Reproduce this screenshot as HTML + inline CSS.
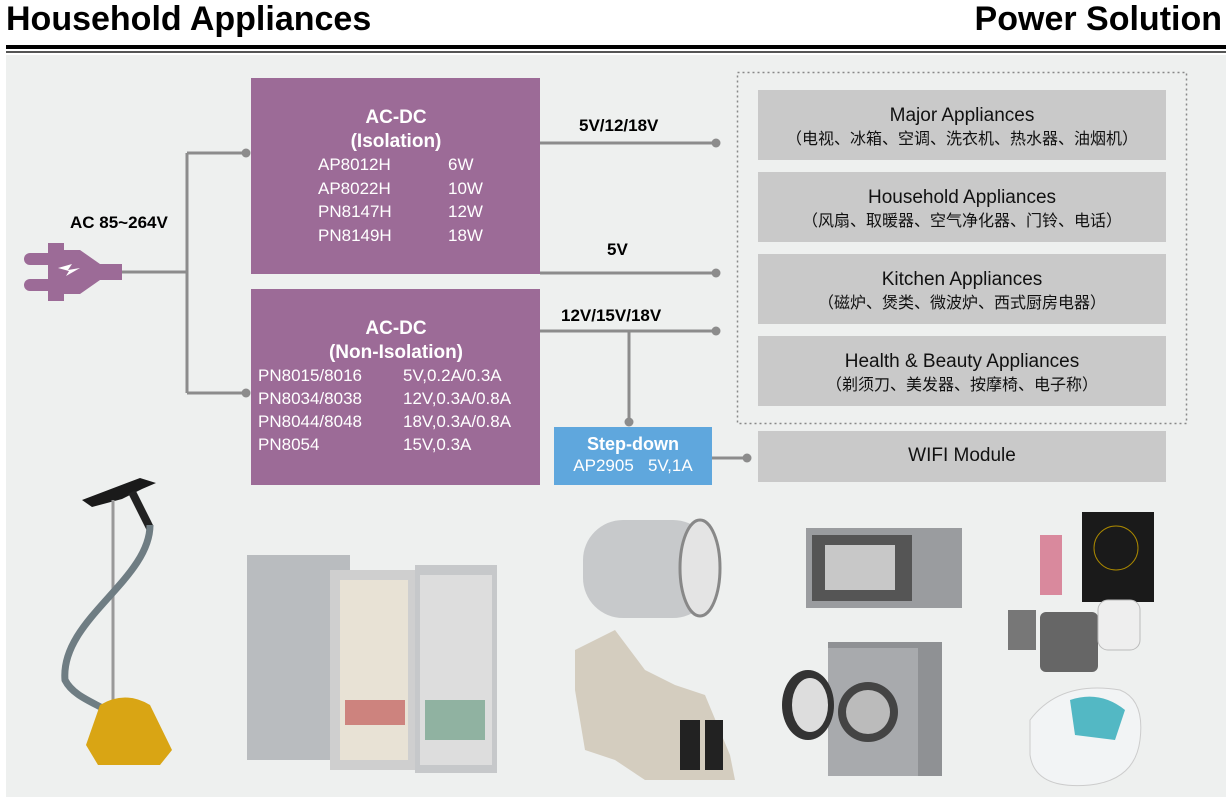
<!DOCTYPE html>
<html><head><meta charset="utf-8"><style>
*{margin:0;padding:0;box-sizing:border-box}
body{width:1232px;height:800px;background:#fff;position:relative;overflow:hidden;font-family:"Liberation Sans","Noto Sans CJK SC",sans-serif}
.a{position:absolute}
.h{font-weight:bold;font-size:34px;color:#000;top:0px}
.pb{background:#9c6b97;color:#fff}
.gb{background:#c9c9c9;color:#111;text-align:center;left:758px;width:408px;height:70px;font-size:19px;line-height:24px;padding-top:14px}
.gb .c{font-size:16px;line-height:23px}
.lbl{font-weight:bold;font-size:17px;color:#000}
.t{position:absolute;font-size:17px;color:#fff;white-space:pre}
</style></head><body>
<div class="a h" style="left:6px">Household Appliances</div>
<div class="a h" style="right:10px">Power Solution</div>
<div class="a" style="left:6px;top:45px;width:1220px;height:4px;background:#000"></div>
<div class="a" style="left:6px;top:51px;width:1220px;height:2px;background:#555"></div>
<div class="a" style="left:6px;top:55px;width:1220px;height:742px;background:#eef0ef"></div>

<svg class="a" style="left:0;top:0" width="1232" height="800">
<g stroke="#8c8c8c" stroke-width="3" fill="none">
<path d="M122 272H187M187 153V393M187 153H246M187 393H246"/>
<path d="M540 143H716M540 273H716M540 331H716M629 331V422M712 458H747"/>
</g>
<g fill="#8c8c8c">
<circle cx="246" cy="153" r="4.5"/><circle cx="246" cy="393" r="4.5"/>
<circle cx="716" cy="143" r="4.5"/><circle cx="716" cy="273" r="4.5"/><circle cx="716" cy="331" r="4.5"/>
<circle cx="629" cy="422" r="4.5"/><circle cx="747" cy="458" r="4.5"/>
</g>
<rect x="737.5" y="72.5" width="449" height="351" fill="none" stroke="#888" stroke-width="1.5" stroke-dasharray="2 3"/>
<!-- plug -->
<g fill="#9c6b97">
<rect x="24" y="253" width="30" height="12" rx="6"/><rect x="24" y="279" width="30" height="12" rx="6"/>
<path d="M48 243h16v7h16l20 14h22v16h-22l-20 14h-16v7h-16z"/>
</g>
<path d="M58 268l14-4-4 6 12-2-14 8 3-5z" fill="#fff"/>
<!-- steamer -->
<path d="M82 500l58-22 16 5-14 6-20 10-30 8z" fill="#1a1a1a"/>
<path d="M132 492l18 36" stroke="#222" stroke-width="8"/>
<path d="M113 500V700" stroke="#999" stroke-width="3"/>
<path d="M150 525C150 580 60 620 65 680 75 700 105 705 120 720" stroke="#6f7d83" stroke-width="7" fill="none"/>
<path d="M100 705q25-15 50 0l22 45-12 15h-62l-12-20z" fill="#d9a514"/>
<!-- fridges -->
<rect x="247" y="555" width="103" height="205" fill="#b9bcbf"/>
<rect x="330" y="570" width="85" height="200" fill="#cfcfcf"/>
<rect x="340" y="580" width="68" height="180" fill="#e8e2d5"/>
<rect x="415" y="565" width="82" height="208" fill="#c6c8ca"/>
<rect x="420" y="575" width="72" height="190" fill="#ddd"/>
<rect x="345" y="700" width="60" height="25" fill="#b44" opacity=".6"/><rect x="425" y="700" width="60" height="40" fill="#486" opacity=".5"/>
<!-- water heater -->
<rect x="583" y="520" width="130" height="98" rx="40" fill="#c7c9cb"/>
<ellipse cx="700" cy="568" rx="20" ry="48" fill="#e4e4e4" stroke="#888" stroke-width="3"/>
<!-- microwave -->
<rect x="806" y="528" width="156" height="80" fill="#9a9c9f"/>
<rect x="812" y="535" width="100" height="66" fill="#555"/>
<rect x="825" y="545" width="70" height="45" fill="#c8c8c8"/>
<!-- chair -->
<path d="M575 650l40-20 30 40 30 15 30 10 25 60 5 25h-90l-30-20-30-10-10-60z" fill="#d4cdbf"/>
<rect x="680" y="720" width="20" height="50" fill="#222"/><rect x="705" y="720" width="18" height="50" fill="#222"/>
<!-- washer -->
<rect x="828" y="642" width="114" height="134" fill="#8f9194"/>
<rect x="828" y="648" width="90" height="128" fill="#a8aaad"/>
<circle cx="868" cy="712" r="30" fill="#444"/><circle cx="868" cy="712" r="22" fill="#bbb"/>
<ellipse cx="808" cy="705" rx="26" ry="35" fill="#333"/><ellipse cx="810" cy="705" rx="18" ry="27" fill="#ddd"/>
<!-- kitchen -->
<rect x="1082" y="512" width="72" height="90" fill="#1a1a1a"/>
<circle cx="1116" cy="548" r="22" fill="none" stroke="#a80" stroke-width="1"/>
<rect x="1040" y="535" width="22" height="60" fill="#c46" opacity=".6"/>
<rect x="1008" y="610" width="28" height="40" fill="#777"/>
<rect x="1040" y="612" width="58" height="60" rx="6" fill="#666"/>
<rect x="1098" y="600" width="42" height="50" rx="10" fill="#eee" stroke="#bbb"/>
<!-- foot bath -->
<path d="M1030 720q30-40 90-30 25 10 20 50-5 40-50 45-55 5-60-30z" fill="#f2f4f5" stroke="#ccc"/>
<path d="M1070 700q30-10 55 10l-10 30-40-5z" fill="#2aa9b8" opacity=".8"/>
</svg>

<div class="a pb" style="left:251px;top:78px;width:289px;height:196px">
 <div style="position:absolute;left:0;width:290px;text-align:center;font-weight:bold;font-size:19px;line-height:24px;top:28px;padding-left:0">AC-DC<br>(Isolation)</div>
 <div class="t" style="left:67px;top:75px;line-height:23.5px">AP8012H<br>AP8022H<br>PN8147H<br>PN8149H</div>
 <div class="t" style="left:197px;top:75px;line-height:23.5px">6W<br>10W<br>12W<br>18W</div>
</div>
<div class="a pb" style="left:251px;top:289px;width:289px;height:196px">
 <div style="position:absolute;left:0;width:290px;text-align:center;font-weight:bold;font-size:19px;line-height:24px;top:28px">AC-DC<br>(Non-Isolation)</div>
 <div class="t" style="left:7px;top:75px;line-height:23px">PN8015/8016<br>PN8034/8038<br>PN8044/8048<br>PN8054</div>
 <div class="t" style="left:152px;top:75px;line-height:23px">5V,0.2A/0.3A<br>12V,0.3A/0.8A<br>18V,0.3A/0.8A<br>15V,0.3A</div>
</div>
<div class="a" style="left:554px;top:427px;width:158px;height:58px;background:#5fa7dd;color:#fff;text-align:center;padding-top:7px">
 <div style="font-weight:bold;font-size:18px;line-height:21px">Step-down</div>
 <div style="font-size:17px;line-height:22px;white-space:pre">AP2905   5V,1A</div>
</div>

<div class="a lbl" style="left:70px;top:213px">AC 85~264V</div>
<div class="a lbl" style="left:579px;top:116px">5V/12/18V</div>
<div class="a lbl" style="left:607px;top:240px">5V</div>
<div class="a lbl" style="left:561px;top:306px">12V/15V/18V</div>

<div class="a gb" style="top:90px">Major Appliances<div class="c">（电视、冰箱、空调、洗衣机、热水器、油烟机）</div></div>
<div class="a gb" style="top:172px">Household Appliances<div class="c">（风扇、取暖器、空气净化器、门铃、电话）</div></div>
<div class="a gb" style="top:254px">Kitchen Appliances<div class="c">（磁炉、煲类、微波炉、西式厨房电器）</div></div>
<div class="a gb" style="top:336px">Health &amp; Beauty Appliances<div class="c">（剃须刀、美发器、按摩椅、电子称）</div></div>
<div class="a gb" style="top:431px;height:51px;padding-top:13px">WIFI Module</div>
</body></html>
